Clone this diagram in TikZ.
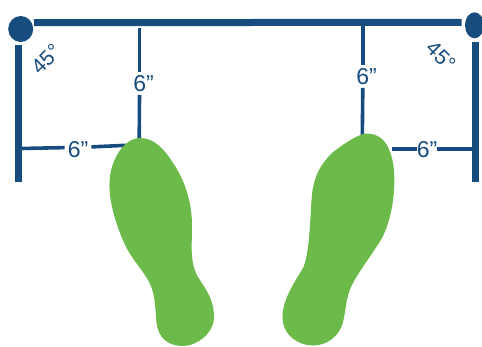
\documentclass[tikz,border=0pt]{standalone}
\usepackage{fontspec}
\setmainfont{Liberation Sans}
\usetikzlibrary{shapes.geometric}
\definecolor{navy}{HTML}{174C7E}
\definecolor{leaf}{HTML}{6CBB4A}
\tikzset{
  rail/.style={draw=navy,line width=7pt},
  post/.style={draw=navy,line width=6.5pt},
  gauge/.style={draw=navy,line width=3.6pt},
  pivot/.style={ellipse,fill=navy,inner sep=0pt},
  lab/.style={text=navy,font=\fontsize{23}{23}\selectfont,inner xsep=2pt,inner ysep=3pt},
  ang/.style={text=navy,font=\fontsize{21}{21}\selectfont,inner sep=0pt},
  foot/.style={fill=leaf,draw=none}
}
\begin{document}
\begin{tikzpicture}[x=1pt,y=-1pt]
\useasboundingbox (0,0) rectangle (482,346);
\node[pivot,minimum width=25pt,minimum height=26pt] (pl) at (20.7,29) {};
\node[pivot,minimum width=19pt,minimum height=26pt] (pr) at (474.5,25.3) {};
\coordinate (railL) at (34,22.7);
\coordinate (railR) at (461.7,22.3);
\draw[rail] (railL) -- (railR);
\coordinate (pla) at (18.3,45); \coordinate (plb) at (18.3,182);
\coordinate (pra) at (475.3,41.7); \coordinate (prb) at (475.3,182);
\draw[post] (pla) -- (plb);
\draw[post] (pra) -- (prb);
\node[lab] (v1) at (143.5,83.5) {6”};
\node[lab] (v2) at (366.5,76.5) {6”};
\node[lab,inner xsep=3pt] (h1) at (78,149.5) {6”};
\node[lab,inner xsep=0pt] (h2) at (427,150) {6”};
\coordinate (v1a) at (139.5,28); \coordinate (v1b) at (139.2,142);
\coordinate (v2a) at (362.8,25); \coordinate (v2b) at (362.3,138);
\coordinate (h1a) at (21,148.5); \coordinate (h1b) at (126,145.3);
\coordinate (h1c) at (h1.west |- 0,147.6); \coordinate (h1d) at (h1.east |- 0,146.9);
\coordinate (h2a) at (391.7,149); \coordinate (h2b) at (474,149);
\draw[gauge] (v1a) -- (v1.north -| v1a); \draw[gauge] (v1.south -| v1a) -- (v1b);
\draw[gauge] (v2a) -- (v2.north -| v2a); \draw[gauge] (v2.south -| v2a) -- (v2b);
\draw[gauge] (h1a) -- (h1c); \draw[gauge] (h1d) -- (h1b);
\draw[gauge] (h2a) -- (h2.west |- h2a); \draw[gauge] (h2.east |- h2a) -- (h2b);
\node[ang,rotate=45] (al) at (46,59) {45°};
\node[ang,rotate=-45] (ar) at (441,56) {45°};
\fill[foot] (140,138)
 .. controls (155,138) and (165,150) .. (175,166)
 .. controls (186,183) and (192,205) .. (192,225)
 .. controls (192,245) and (190,260) .. (196,273)
 .. controls (200,283) and (214,295) .. (214,317)
 .. controls (214,333) and (197,346) .. (183,346)
 .. controls (168,346) and (158,338) .. (156.5,322)
 .. controls (155,305) and (155,292) .. (148,280)
 .. controls (140,266) and (130,258) .. (122,238)
 .. controls (114,218) and (109,200) .. (109.5,183)
 .. controls (110,160) and (124,138) .. (140,138) -- cycle;
\fill[foot] (365,133.5)
 .. controls (378,133) and (386,140) .. (390,152)
 .. controls (394,162) and (395,175) .. (394,190)
 .. controls (393,205) and (390,222) .. (382,238)
 .. controls (374,252) and (358,272) .. (351,287)
 .. controls (346,298) and (346,310) .. (343,322)
 .. controls (340,335) and (328,345.5) .. (313,345.5)
 .. controls (298,345.5) and (282,335) .. (282.5,316)
 .. controls (283,298) and (296,280) .. (303,268)
 .. controls (309,255) and (310,225) .. (311.5,200)
 .. controls (313,175) and (322,163) .. (332,153)
 .. controls (342,145) and (355,136) .. (365,133.5) -- cycle;
\end{tikzpicture}
\end{document}
